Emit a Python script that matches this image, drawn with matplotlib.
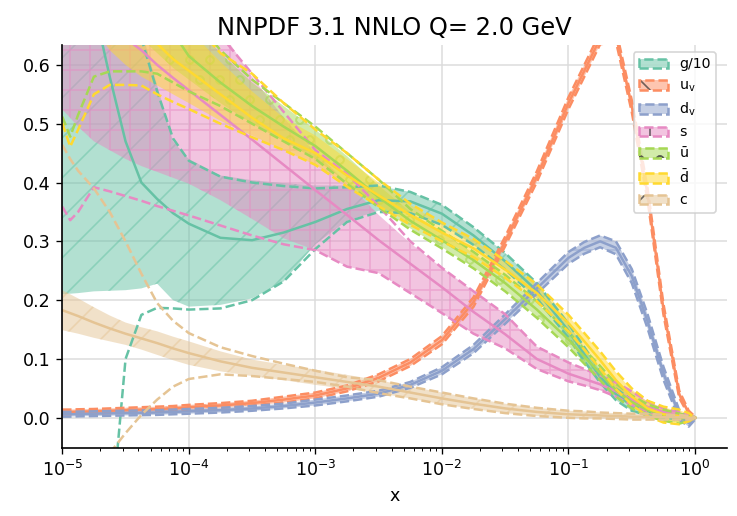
import numpy as np
import matplotlib
matplotlib.use('Agg')
import matplotlib.pyplot as plt
from matplotlib.patches import Patch
from matplotlib.legend_handler import HandlerTuple

# x nodes
x = np.array([1.0e-5, 1.155e-5, 1.334e-5, 1.778e-5, 2.371e-5, 3.162e-5, 4.217e-5,
              5.623e-5, 7.499e-5, 1.0e-4, 1.778e-4, 3.162e-4, 5.623e-4, 1.0e-3,
              1.778e-3, 3.162e-3, 5.623e-3, 1.0e-2, 1.778e-2, 3.162e-2, 5.623e-2,
              0.1, 0.1334, 0.1778, 0.2371, 0.3162, 0.4217, 0.5623, 0.7499, 0.8913, 1.0])

# g/10
g_cv = [0.95, 0.89, 0.82, 0.70, 0.58, 0.47, 0.40, 0.372, 0.348, 0.33, 0.306, 0.302, 0.315, 0.333,
        0.355, 0.37, 0.368, 0.347, 0.31, 0.266, 0.216, 0.148, 0.108, 0.07, 0.04, 0.021, 0.011,
        0.005, 0.002, 0.0, 0.0]
g_lo = [0.21, 0.211, 0.212, 0.215, 0.216, 0.217, 0.22, 0.228, 0.2, 0.189, 0.192, 0.203, 0.232,
        0.295, 0.335, 0.352, 0.348, 0.328, 0.294, 0.252, 0.203, 0.136, 0.096, 0.06, 0.03, 0.012,
        0.004, 0.0, -0.002, -0.003, 0.0]
g_hi = [0.92, 0.9, 0.88, 0.84, 0.78, 0.72, 0.66, 0.565, 0.47, 0.44, 0.412, 0.404, 0.399, 0.395,
        0.395, 0.394, 0.384, 0.362, 0.324, 0.28, 0.229, 0.16, 0.12, 0.08, 0.05, 0.03, 0.018,
        0.01, 0.006, 0.003, 0.0]
g_dlo = [-1.5, -1.25, -1.0, -0.6, -0.2, 0.1, 0.175, 0.187, 0.186, 0.184, 0.186, 0.2, 0.232,
         0.287, 0.333, 0.35, 0.348, 0.328, 0.294, 0.252, 0.203, 0.136, 0.096, 0.06, 0.03, 0.012,
         0.004, 0.0, -0.002, -0.003, 0.0]
g_dhi = [0.95, 0.93, 0.9, 0.86, 0.8, 0.74, 0.645, 0.555, 0.475, 0.437, 0.41, 0.40, 0.394, 0.39,
         0.392, 0.395, 0.384, 0.362, 0.324, 0.28, 0.229, 0.16, 0.12, 0.08, 0.05, 0.03, 0.018,
         0.01, 0.006, 0.003, 0.0]

# u valence
uv_cv = [0.010, 0.010, 0.0105, 0.011, 0.012, 0.013, 0.014, 0.015, 0.016, 0.018, 0.021, 0.025,
         0.031, 0.038, 0.05, 0.068, 0.094, 0.132, 0.197, 0.30, 0.41, 0.535, 0.59, 0.645, 0.65,
         0.53, 0.38, 0.185, 0.04, 0.008, 0.0]
uv_err = [0.004, 0.004, 0.004, 0.004, 0.004, 0.004, 0.004, 0.004, 0.004, 0.004, 0.004, 0.004,
          0.005, 0.005, 0.005, 0.006, 0.006, 0.007, 0.008, 0.008, 0.009, 0.01, 0.01, 0.01, 0.01,
          0.01, 0.01, 0.009, 0.006, 0.004, 0.002]

# d valence
dv_cv = [0.006, 0.006, 0.0065, 0.007, 0.0075, 0.008, 0.0085, 0.009, 0.010, 0.011, 0.013, 0.016,
         0.020, 0.026, 0.033, 0.041, 0.056, 0.08, 0.117, 0.168, 0.22, 0.272, 0.289, 0.30, 0.289,
         0.241, 0.164, 0.076, 0.005, -0.009, 0.0]
dv_err = [0.004, 0.004, 0.004, 0.004, 0.004, 0.004, 0.004, 0.004, 0.004, 0.004, 0.004, 0.004,
          0.004, 0.005, 0.005, 0.005, 0.005, 0.006, 0.007, 0.008, 0.009, 0.01, 0.01, 0.01, 0.011,
          0.012, 0.012, 0.011, 0.008, 0.006, 0.003]

# strange
s_cv = [0.73, 0.72, 0.71, 0.69, 0.67, 0.645, 0.625, 0.60, 0.578, 0.557, 0.515, 0.473, 0.43,
        0.387, 0.345, 0.302, 0.262, 0.222, 0.18, 0.142, 0.10, 0.075, 0.066, 0.057, 0.045, 0.031,
        0.018, 0.01, 0.005, 0.002, 0.0]
s_lo = [0.524, 0.51, 0.495, 0.47, 0.455, 0.44, 0.428, 0.418, 0.408, 0.398, 0.37, 0.338, 0.305,
        0.285, 0.257, 0.246, 0.212, 0.178, 0.143, 0.118, 0.083, 0.062, 0.055, 0.047, 0.036,
        0.022, 0.011, 0.004, 0.001, 0.0, 0.0]
s_hi = [0.8, 0.795, 0.79, 0.78, 0.77, 0.76, 0.75, 0.74, 0.72, 0.70, 0.66, 0.58, 0.51, 0.45,
        0.40, 0.345, 0.297, 0.255, 0.215, 0.176, 0.121, 0.094, 0.083, 0.072, 0.06, 0.045,
        0.028, 0.016, 0.009, 0.004, 0.0]
s_dlo = [0.359, 0.336, 0.35, 0.392, 0.385, 0.377, 0.369, 0.36, 0.352, 0.344, 0.327, 0.31, 0.295,
         0.285, 0.257, 0.246, 0.212, 0.178, 0.143, 0.118, 0.083, 0.062, 0.055, 0.047, 0.036,
         0.022, 0.011, 0.004, 0.001, 0.0, 0.0]
s_dhi = [0.95, 0.94, 0.93, 0.91, 0.89, 0.87, 0.85, 0.82, 0.79, 0.75, 0.65, 0.585, 0.52, 0.455,
         0.415, 0.36, 0.30, 0.255, 0.215, 0.176, 0.121, 0.094, 0.083, 0.072, 0.06, 0.045,
         0.028, 0.016, 0.009, 0.004, 0.0]

# u bar
ub_cv = [0.85, 0.845, 0.84, 0.82, 0.79, 0.76, 0.73, 0.70, 0.655, 0.615, 0.57, 0.53, 0.495,
         0.462, 0.42, 0.375, 0.335, 0.302, 0.268, 0.229, 0.184, 0.133, 0.104, 0.076, 0.047,
         0.027, 0.013, 0.005, -0.001, 0.0, 0.0]
ub_lo = [0.75, 0.745, 0.74, 0.72, 0.70, 0.675, 0.645, 0.62, 0.595, 0.575, 0.535, 0.50, 0.47,
         0.44, 0.40, 0.36, 0.322, 0.29, 0.256, 0.217, 0.172, 0.122, 0.094, 0.066, 0.038,
         0.018, 0.005, -0.003, -0.008, -0.004, 0.0]
ub_hi = [1.0, 0.99, 0.98, 0.96, 0.93, 0.89, 0.85, 0.80, 0.74, 0.68, 0.62, 0.57, 0.53, 0.49,
         0.445, 0.395, 0.35, 0.315, 0.28, 0.241, 0.196, 0.144, 0.114, 0.086, 0.056, 0.036,
         0.021, 0.013, 0.006, 0.003, 0.0]
ub_dlo = [0.512, 0.478, 0.515, 0.58, 0.589, 0.589, 0.589, 0.585, 0.57, 0.555, 0.53, 0.50, 0.47,
          0.44, 0.398, 0.358, 0.32, 0.288, 0.254, 0.215, 0.17, 0.12, 0.092, 0.064, 0.036,
          0.016, 0.003, -0.005, -0.01, -0.005, 0.0]
ub_dhi = [1.05, 1.04, 1.03, 1.0, 0.97, 0.93, 0.88, 0.82, 0.76, 0.69, 0.625, 0.575, 0.535,
          0.495, 0.45, 0.405, 0.355, 0.318, 0.282, 0.243, 0.198, 0.146, 0.116, 0.088, 0.058,
          0.038, 0.023, 0.014, 0.007, 0.003, 0.0]

# d bar
db_cv = [0.80, 0.795, 0.79, 0.75, 0.72, 0.69, 0.665, 0.636, 0.61, 0.59, 0.55, 0.51, 0.475,
         0.45, 0.412, 0.378, 0.345, 0.315, 0.288, 0.252, 0.212, 0.161, 0.13, 0.098, 0.064,
         0.036, 0.016, 0.006, 0.003, 0.001, 0.0]
db_lo = [0.70, 0.695, 0.69, 0.665, 0.625, 0.60, 0.58, 0.565, 0.55, 0.535, 0.505, 0.48, 0.455,
         0.43, 0.395, 0.362, 0.33, 0.302, 0.275, 0.24, 0.20, 0.149, 0.118, 0.085, 0.051,
         0.024, 0.005, -0.006, -0.009, -0.005, 0.0]
db_hi = [0.95, 0.94, 0.93, 0.9, 0.86, 0.82, 0.78, 0.74, 0.70, 0.66, 0.605, 0.555, 0.51, 0.48,
         0.44, 0.40, 0.362, 0.33, 0.302, 0.265, 0.225, 0.173, 0.142, 0.111, 0.077, 0.048,
         0.027, 0.017, 0.013, 0.007, 0.0]
db_dlo = [0.501, 0.461, 0.49, 0.55, 0.566, 0.566, 0.565, 0.55, 0.537, 0.525, 0.50, 0.477, 0.455,
          0.43, 0.393, 0.36, 0.328, 0.3, 0.273, 0.238, 0.198, 0.147, 0.116, 0.083, 0.049,
          0.022, 0.003, -0.008, -0.011, -0.006, 0.0]
db_dhi = [1.0, 0.99, 0.98, 0.95, 0.91, 0.87, 0.82, 0.77, 0.72, 0.68, 0.62, 0.585, 0.535, 0.49,
          0.45, 0.405, 0.364, 0.332, 0.304, 0.267, 0.227, 0.175, 0.144, 0.113, 0.079, 0.05,
          0.029, 0.019, 0.014, 0.008, 0.0]

# charm
c_cv = [0.183, 0.178, 0.173, 0.162, 0.152, 0.143, 0.135, 0.127, 0.118, 0.11, 0.096, 0.085,
        0.077, 0.069, 0.061, 0.053, 0.043, 0.033, 0.024, 0.016, 0.01, 0.006, 0.005, 0.004,
        0.003, 0.002, 0.002, 0.001, 0.001, 0.0, 0.0]
c_err = [0.034, 0.032, 0.03, 0.026, 0.022, 0.019, 0.019, 0.02, 0.02, 0.02, 0.017, 0.014, 0.013,
         0.013, 0.012, 0.011, 0.01, 0.01, 0.009, 0.008, 0.007, 0.006, 0.006, 0.005, 0.005,
         0.005, 0.005, 0.004, 0.004, 0.003, 0.002]
c_dlo = [-0.3, -0.27, -0.24, -0.16, -0.06, -0.026, 0.005, 0.031, 0.053, 0.066, 0.074, 0.071,
         0.066, 0.061, 0.053, 0.042, 0.033, 0.023, 0.015, 0.008, 0.003, 0.0, -0.001, -0.001,
         -0.002, -0.003, -0.003, -0.003, -0.003, -0.003, -0.002]
c_dhi = [0.464, 0.44, 0.42, 0.39, 0.35, 0.30, 0.245, 0.195, 0.165, 0.144, 0.12, 0.105, 0.092,
         0.08, 0.069, 0.064, 0.053, 0.043, 0.033, 0.024, 0.017, 0.012, 0.011, 0.009, 0.008,
         0.007, 0.007, 0.005, 0.005, 0.003, 0.002]

labels = ['g/10', r'$\mathrm{u_v}$', r'$\mathrm{d_v}$', 's',
          r'$\bar{\mathrm{u}}$', r'$\bar{\mathrm{d}}$', 'c']
colors = ['#66c2a5', '#fc8d62', '#8da0cb', '#e78ac3', '#a6d854', '#ffd92f', '#e5c494']
hatches = ['/', '\\', '-', '+', 'o', '', '/']
legend_hatches = ['', '\\', '', '|', 'o', '', '/']
lw = 1.5


def plot_pdf(ax, color, hatch, cv, lo, hi, dlo, dhi):
    ax.fill_between(x, lo, hi, facecolor=color, edgecolor=color, alpha=0.5,
                    hatch=hatch, linewidth=0)
    ax.plot(x, cv, color=color, lw=lw)
    ax.plot(x, dlo, color=color, ls='--', lw=lw)
    ax.plot(x, dhi, color=color, ls='--', lw=lw)


def sym_band(cv, err):
    cv = np.array(cv)
    err = np.array(err)
    return cv, cv - err, cv + err


dpi = 120
fig = plt.figure(figsize=(737 / dpi, 516 / dpi), dpi=dpi)
ax = fig.add_subplot(111)
fig.subplots_adjust(left=0.0845, right=0.986, bottom=0.131, top=0.913)

uv = sym_band(uv_cv, uv_err)
dv = sym_band(dv_cv, dv_err)
cc = sym_band(c_cv, c_err)

plot_pdf(ax, colors[0], hatches[0], g_cv, g_lo, g_hi, g_dlo, g_dhi)
plot_pdf(ax, colors[1], hatches[1], uv[0], uv[1], uv[2], uv[1], uv[2])
plot_pdf(ax, colors[2], hatches[2], dv[0], dv[1], dv[2], dv[1], dv[2])
plot_pdf(ax, colors[3], hatches[3], s_cv, s_lo, s_hi, s_dlo, s_dhi)
plot_pdf(ax, colors[4], hatches[4], ub_cv, ub_lo, ub_hi, ub_dlo, ub_dhi)
plot_pdf(ax, colors[5], hatches[5], db_cv, db_lo, db_hi, db_dlo, db_dhi)
plot_pdf(ax, colors[6], hatches[6], cc[0], cc[1], cc[2], c_dlo, c_dhi)

ax.set_xscale('log')
ax.set_xlim(1e-5, 10 ** 0.25)
ax.set_ylim(-0.052, 0.634)
ax.set_yticks([0.0, 0.1, 0.2, 0.3, 0.4, 0.5, 0.6])
ax.grid(True, which='major', color='#dcdcdc', lw=0.9)
ax.set_axisbelow(True)
for side in ['top', 'right']:
    ax.spines[side].set_visible(False)
for side in ['left', 'bottom']:
    ax.spines[side].set_linewidth(1.0)
ax.tick_params(labelsize=10.5)
ax.set_xlabel('x', fontsize=10.5)
ax.set_title('NNPDF 3.1 NNLO Q= 2.0 GeV', fontsize=14.5)

handles = []
for color, hatch in zip(colors, legend_hatches):
    fill = Patch(facecolor=matplotlib.colors.to_rgba(color, 0.5),
                 edgecolor=(0.2, 0.2, 0.2, 0.7), hatch=hatch, lw=0)
    edge = Patch(facecolor='none', edgecolor=color, ls='--', lw=lw)
    handles.append((fill, edge))
ax.legend(handles, labels, loc='upper right', bbox_to_anchor=(0.984, 0.983),
          borderaxespad=0, fontsize=8.5, handler_map={tuple: HandlerTuple(ndivide=1)},
          edgecolor='#cccccc')

fig.savefig('out.png', dpi=dpi)
